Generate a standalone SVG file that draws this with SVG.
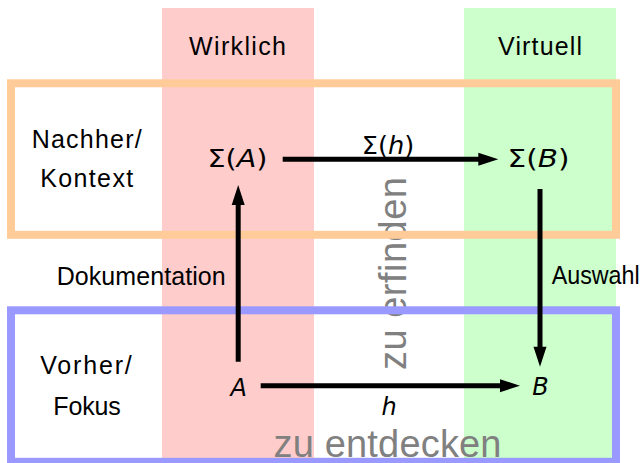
<svg xmlns="http://www.w3.org/2000/svg" width="643" height="463" viewBox="0 0 643 463">
  <style>
    .lbl { font-family: "Liberation Sans", Arial, sans-serif; font-size: 25px; fill: #000; }
    .math { font-family: "DejaVu Sans", "Liberation Sans", sans-serif; font-size: 24px; fill: #000; }
    .it { font-style: italic; }
    .big { font-family: "Liberation Sans", Arial, sans-serif; font-size: 38px; fill: #808080; }
    .frame { fill: none; stroke-width: 8; }
    .edge { stroke: #000; stroke-width: 5; fill: none; marker-end: url(#head); }
  </style>
  <defs>
    <marker id="head" markerUnits="userSpaceOnUse" markerWidth="24" markerHeight="16" refX="2" refY="0" viewBox="0 -8 24 16" orient="auto" overflow="visible">
      <path d="M0,-6.5 L20,0 L0,6.5 Z" fill="#000"/>
    </marker>
  </defs>

  <!-- column shading -->
  <g id="col-wirklich">
    <rect x="162" y="8" width="152" height="455" fill="#FFCCCC"/>
    <text class="lbl" x="237.5" y="55" text-anchor="middle" textLength="97" lengthAdjust="spacing">Wirklich</text>
  </g>
  <g id="col-virtuell">
    <rect x="464" y="8" width="152" height="455" fill="#CCFFCC"/>
    <text class="lbl" x="540" y="55" text-anchor="middle" textLength="84" lengthAdjust="spacing">Virtuell</text>
  </g>

  <!-- large gray captions -->
  <g id="cap-erfinden">
    <text class="big" transform="translate(406,273.5) rotate(-90)" text-anchor="middle" textLength="193" lengthAdjust="spacing">zu erfinden</text>
  </g>
  <g id="cap-entdecken">
    <text class="big" x="273.5" y="457" textLength="228" lengthAdjust="spacing">zu entdecken</text>
  </g>

  <!-- row frames -->
  <g id="row-nachher">
    <rect class="frame" x="11" y="83.3" width="605" height="151.5" stroke="#FFCC99"/>
    <text class="lbl" x="86.7" y="147.7" text-anchor="middle" textLength="110" lengthAdjust="spacing">Nachher/</text>
    <text class="lbl" x="86.7" y="186.7" text-anchor="middle" textLength="93" lengthAdjust="spacing">Kontext</text>
  </g>
  <g id="row-vorher">
    <rect class="frame" x="11" y="310.3" width="605" height="151.5" stroke="#9999FF"/>
    <text class="lbl" x="86" y="373.5" text-anchor="middle" textLength="91.5" lengthAdjust="spacing">Vorher/</text>
    <text class="lbl" x="87" y="415" text-anchor="middle" textLength="67.5" lengthAdjust="spacing">Fokus</text>
  </g>

  <!-- objects -->
  <g id="node-sigmaA">
    <text class="math" x="237.5" y="166.5" text-anchor="middle" textLength="60" lengthAdjust="spacingAndGlyphs">Σ(<tspan class="it">A</tspan>)</text>
  </g>
  <g id="node-sigmaB">
    <text class="math" x="538.5" y="166.5" text-anchor="middle" textLength="62" lengthAdjust="spacingAndGlyphs">Σ(<tspan class="it">B</tspan>)</text>
  </g>
  <g id="node-A">
    <text class="math it" x="238.8" y="395.7" text-anchor="middle">A</text>
  </g>
  <g id="node-B">
    <text class="math it" x="540.5" y="395" text-anchor="middle">B</text>
  </g>

  <!-- connectors and their labels -->
  <g id="connectors">
    <line class="edge" x1="238.2" y1="361.7" x2="238.2" y2="203"/>
    <line class="edge" x1="282.7" y1="159.3" x2="480.3" y2="159.3"/>
    <line class="edge" x1="540" y1="189" x2="540" y2="348.7"/>
    <line class="edge" x1="260.7" y1="385.7" x2="502" y2="385.7"/>
    <text class="lbl" x="141.2" y="285" text-anchor="middle" textLength="169" lengthAdjust="spacing">Dokumentation</text>
    <text class="lbl" x="551.7" y="284" textLength="88" lengthAdjust="spacingAndGlyphs">Auswahl</text>
    <text class="math" x="388" y="153.5" text-anchor="middle" textLength="52.5" lengthAdjust="spacingAndGlyphs">Σ(<tspan class="it">h</tspan>)</text>
    <text class="math it" x="389" y="415" text-anchor="middle">h</text>
  </g>
</svg>
